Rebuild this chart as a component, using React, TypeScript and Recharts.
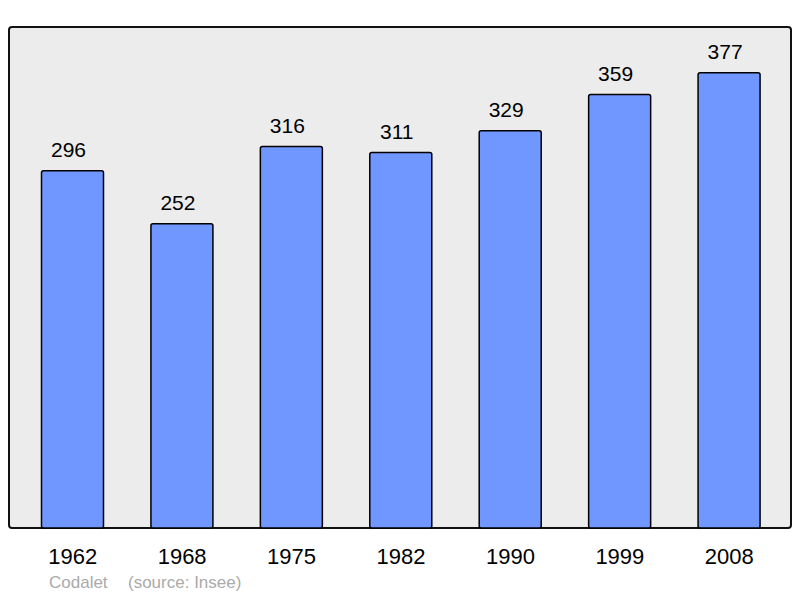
import React from "react";
import { BarChart, Bar, XAxis, YAxis, LabelList, Cell } from "recharts";

// census years and population counts
const years = ["1962", "1968", "1975", "1982", "1990", "1999", "2008"];
const population = [296, 252, 316, 311, 329, 359, 377];

const commune = "Codalet";
const source = "(source: Insee)";

const data = years.map((year, i) => ({ year, population: population[i] }));

const FONT = '"Liberation Sans", Arial, sans-serif';

export default function App() {
    return (
        <div style={{ position: "absolute", left: 0, top: 0, width: 800, height: 598, background: "#fff", fontFamily: FONT }}>
            {/* plot frame */}
            <div
                style={{
                    position: "absolute",
                    left: 8,
                    top: 26,
                    width: 780,
                    height: 499,
                    background: "#ececec",
                    border: "2px solid #111",
                    borderRadius: 4,
                }}
            />
            <div style={{ position: "absolute", left: 0, top: 0 }}>
                <BarChart
                    width={800}
                    height={598}
                    data={data}
                    margin={{ top: 27, right: 9, left: 9, bottom: 30 }}
                    barCategoryGap={23.5}
                >
                    <XAxis
                        dataKey="year"
                        axisLine={false}
                        tickLine={false}
                        tickSize={0}
                        tickMargin={20}
                        height={40}
                        padding={{ left: 9, right: 7 }}
                        tick={{ fill: "#000", fontSize: 22, fontFamily: FONT }}
                    />
                    <YAxis hide domain={[0, 415]} />
                    <Bar dataKey="population" fill="#7096ff" stroke="#000" strokeWidth={1.5} radius={2} isAnimationActive={false}>
                        {data.map((entry, index) => (
                            <Cell key={`cell-${index}`} fill="#7096ff" />
                        ))}
                        <LabelList dataKey="population" position="top" offset={14} dx={-4} fill="#000" fontSize={21} fontFamily={FONT} />
                    </Bar>
                </BarChart>
            </div>
            <div style={{ position: "absolute", left: 49, top: 573, fontSize: 17, color: "#aaa", whiteSpace: "pre" }}>
                {commune}
            </div>
            <div style={{ position: "absolute", left: 128, top: 573, fontSize: 17, color: "#aaa", whiteSpace: "pre" }}>
                {source}
            </div>
        </div>
    );
}
